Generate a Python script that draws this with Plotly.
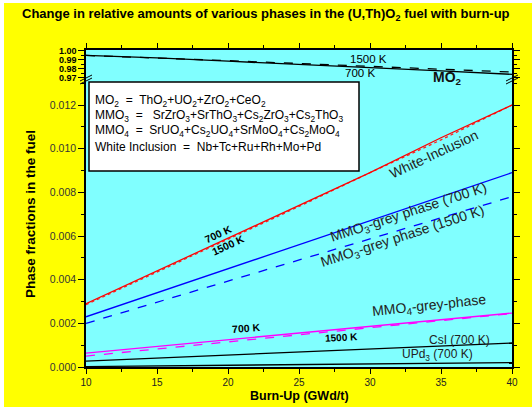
import plotly.graph_objects as go

# ---------------- data ----------------
burnup = [10, 15, 20, 25, 30, 35, 40]

mo2_700 = [0.9945, 0.9918, 0.9882, 0.9850, 0.9812, 0.9775, 0.9738]
mo2_1500 = [0.9945, 0.9920, 0.9888, 0.9857, 0.9825, 0.9795, 0.9763]

white_700 = [0.0029, 0.0044, 0.0059, 0.0074, 0.0089, 0.0105, 0.0120]
white_1500 = [0.00285, 0.00435, 0.00585, 0.00735, 0.0089, 0.0104, 0.0120]

mmo3_700 = [0.0023, 0.0034, 0.0045, 0.0056, 0.0067, 0.0078, 0.0089]
mmo3_1500 = [0.0020, 0.00297, 0.00393, 0.0049, 0.00587, 0.00683, 0.0078]

mmo4_700 = [0.00064, 0.00094, 0.00125, 0.00155, 0.00186, 0.00216, 0.00247]
mmo4_1500 = [0.0005, 0.00083, 0.00115, 0.00148, 0.0018, 0.00213, 0.00245]

csi_700 = [0.00027, 0.00041, 0.00055, 0.00069, 0.00082, 0.00096, 0.0011]
upd3_700 = [0.00002, 0.00005, 0.00008, 0.00011, 0.00014, 0.00017, 0.0002]

x_ticks = [10, 15, 20, 25, 30, 35, 40]
y_low_ticks = [0.000, 0.002, 0.004, 0.006, 0.008, 0.010, 0.012]
y_high_ticks = [0.97, 0.98, 0.99, 1.00]

# ---------------- layout helpers (pixel -> paper) ----------------
L, R, T, B = 86, 20, 50, 40
W, H = 532, 407
PW, PH = W - L - R, H - T - B


def px(X):
    return (X - L) / PW


def py(Y):
    return (H - B - Y) / PH


FONT = "Arial, Liberation Sans, sans-serif"
BREAK = py(80)

fig = go.Figure()


def add(y, color, dash, axis):
    fig.add_trace(go.Scatter(
        x=burnup, y=y, mode="lines", xaxis="x" if axis == "y" else "x2", yaxis=axis,
        line=dict(color=color, width=1.3, dash=dash), showlegend=False, hoverinfo="skip"))


add(mo2_1500, "black", "dash", "y2")
add(mo2_700, "black", "solid", "y2")
add(white_1500, "#ff2020", "dot", "y")
add(white_700, "#ff0000", "solid", "y")
add(mmo3_1500, "#0000ff", "dash", "y")
add(mmo3_700, "#0000ff", "solid", "y")
add(mmo4_1500, "#ff00ff", "dash", "y")
add(mmo4_700, "#ff00ff", "solid", "y")
add(csi_700, "black", "solid", "y")
add(upd3_700, "black", "solid", "y")

axis_common = dict(showline=True, linecolor="black", linewidth=1.5, ticks="outside",
                   tickcolor="black", showgrid=False, zeroline=False)

fig.update_layout(
    width=W, height=H,
    margin=dict(l=L, r=R, t=T, b=B),
    paper_bgcolor="#ffff00",
    plot_bgcolor="#80ffff",
    font=dict(family=FONT, color="black"),
    xaxis=dict(domain=[0, 1], anchor="y", range=[10, 40], tickvals=x_ticks,
               ticklen=5, minor=dict(dtick=2.5, tick0=10, ticks="outside", ticklen=3, tickcolor="black"),
               tickfont=dict(size=10, color="#222"), **axis_common),
    xaxis2=dict(domain=[0, 1], anchor="y2", matches="x", range=[10, 40], side="top",
                showticklabels=False, tickvals=x_ticks, ticklen=5,
                minor=dict(dtick=2.5, tick0=10, ticks="outside", ticklen=3, tickcolor="black"),
                **axis_common),
    yaxis=dict(domain=[0, BREAK], anchor="x", range=[0, 0.013145], tickvals=y_low_ticks,
               ticktext=["0.000", "0.002", "0.004", "0.006", "0.008", "0.010", "0.012"],
               ticklen=6, mirror="ticks",
               minor=dict(dtick=0.001, tick0=0, ticks="outside", ticklen=3, tickcolor="black"),
               tickfont=dict(size=10.5, color="#333"), **axis_common),
    yaxis2=dict(domain=[BREAK, 1], anchor="x2", range=[0.9676, 1.0005], tickvals=y_high_ticks,
                ticktext=["0.97", "0.98", "0.99", "1.00"], ticklen=6, mirror="ticks",
                minor=dict(dtick=0.005, tick0=0.97, ticks="outside", ticklen=3, tickcolor="black"),
                tickfont=dict(size=9, color="black", weight="bold"), **axis_common),
)

ann = []


def text(X, Y, s, size=10, angle=0, bold=False, anchor="center", color="black"):
    ann.append(dict(x=px(X), y=py(Y), xref="paper", yref="paper", text=s, showarrow=False,
                    textangle=angle, xanchor=anchor, yanchor="middle",
                    font=dict(family=FONT, size=size, color=color,
                              weight="bold" if bold else "normal")))


# title and axis titles
text(266, 14, "Change in relative amounts of various phases in the (U,Th)O<sub>2</sub> fuel with burn-up",
     size=13, bold=True)
text(299, 396, "Burn-Up (GWd/t)", size=12.5, bold=True)
text(30, 214, "Phase fractions in the fuel", size=13.5, bold=True, angle=-90)

# legend box text
text(93, 101, "MO<sub>2</sub>  =  ThO<sub>2</sub>+UO<sub>2</sub>+ZrO<sub>2</sub>+CeO<sub>2</sub>", size=12, anchor="left")
text(93, 116, "MMO<sub>3</sub>  =   SrZrO<sub>3</sub>+SrThO<sub>3</sub>+Cs<sub>2</sub>ZrO<sub>3</sub>+Cs<sub>2</sub>ThO<sub>3</sub>",
     size=12, anchor="left")
text(93, 131, "MMO<sub>4</sub>  =  SrUO<sub>4</sub>+Cs<sub>2</sub>UO<sub>4</sub>+SrMoO<sub>4</sub>+Cs<sub>2</sub>MoO<sub>4</sub>",
     size=12, anchor="left")
text(93, 147, "White Inclusion  =  Nb+Tc+Ru+Rh+Mo+Pd", size=12, anchor="left")

# in-plot labels
text(368, 59, "1500 K", size=11.5)
text(360, 73, "700 K", size=11.5)
text(447, 78, "MO<sub>2</sub>", size=14, bold=True, color="#111")
text(434, 154, "White-Inclusion", size=14, angle=-25, color="#222")
text(408, 213, "MMO<sub>3</sub>-grey phase (700 K)", size=14, angle=-18, color="#222")
text(402, 237, "MMO<sub>3</sub>-grey phase (1500 K)", size=14, angle=-18, color="#222")
text(218, 234, "700 K", size=10.5, angle=-25, bold=True)
text(228, 245, "1500 K", size=10.5, angle=-25, bold=True)
text(429, 306, "MMO<sub>4</sub>-grey-phase", size=14, angle=-6, color="#222")
text(246, 328, "700 K", size=10.5, angle=-4, bold=True)
text(341, 337, "1500 K", size=10, angle=-3, bold=True)
text(459, 340, "CsI (700 K)", size=12, color="#222")
text(437, 355, "UPd<sub>3</sub> (700 K)", size=12, color="#222")

fig.update_layout(annotations=ann)

shapes = [
    # legend box
    dict(type="rect", xref="paper", yref="paper", x0=px(89), x1=px(359), y0=py(171), y1=py(82),
         fillcolor="white", line=dict(color="black", width=1.5), layer="above"),
    # white outer border strips
    dict(type="rect", xref="paper", yref="paper", x0=px(0), x1=px(4), y0=py(H), y1=py(0),
         fillcolor="white", line=dict(width=0), layer="above"),
    dict(type="rect", xref="paper", yref="paper", x0=px(0), x1=px(W), y0=py(3), y1=py(0),
         fillcolor="white", line=dict(width=0), layer="above"),
]
# axis break marks
for (x0, x1) in [(80, 92), (506, 518)]:
    for off in (0, 3):
        shapes.append(dict(type="line", xref="paper", yref="paper",
                           x0=px(x0), x1=px(x1), y0=py(84 - off), y1=py(78 - off),
                           line=dict(color="black", width=1), layer="above"))
fig.update_layout(shapes=shapes)

fig.write_html("out.html", config={"displayModeBar": False},
               post_script="document.body.style.margin='0';document.body.style.overflow='hidden';")
